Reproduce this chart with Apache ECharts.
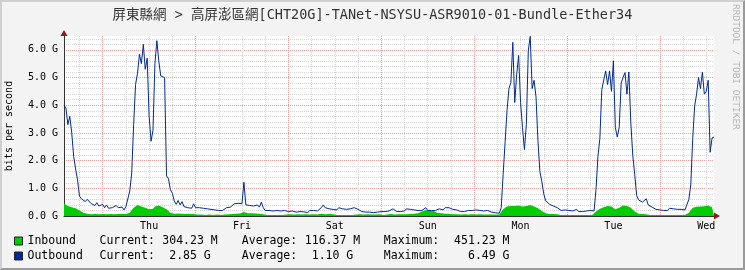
<!DOCTYPE html>
<html>
<head>
<meta charset="utf-8">
<script src="https://cdn.jsdelivr.net/npm/echarts@6/dist/echarts.min.js"></script>
<style>
html,body{margin:0;padding:0;background:#f3f3f3;}
#wrap{position:relative;width:745px;height:270px;}
#c{width:745px;height:270px;}
#frame{position:absolute;left:0;top:0;width:745px;height:270px;box-sizing:border-box;
border-left:2px solid #d0d0d0;border-top:2px solid #d0d0d0;border-right:2px solid #9a9a9a;border-bottom:2px solid #9a9a9a;pointer-events:none;}
</style>
</head>
<body>
<div id="wrap"><div id="c"></div><div id="frame"></div></div>
<script>
// ---- data (Gbit/s), one sample every 30 minutes, starting Wed 14:00 ----
const titleText = '屏東縣網 > 高屏澎區網[CHT20G]-TANet-NSYSU-ASR9010-01-Bundle-Ether34';
const dayNames = ['Sun','Mon','Tue','Wed','Thu','Fri','Sat'];
const startDayIndex = 3;      // Wed
const startMinutes = 14 * 60; // 14:00
const stepMinutes = 30;

const outbound = [
4.0,3.9,3.3,3.6,3.0,2.15,1.7,1.3,0.72,0.62,
0.55,0.52,0.6,0.66,0.45,0.42,0.38,0.48,0.36,0.34,
0.42,0.3,0.4,0.28,0.35,0.3,0.25,0.38,0.3,0.24,
0.32,0.22,0.34,0.3,0.9,1.55,3.3,4.75,5.15,5.84,
5.5,6.2,5.3,5.7,3.6,2.7,3.1,5.5,6.33,5.6,
5.06,5.06,5.0,1.45,1.35,0.95,0.82,0.55,0.42,0.56,
0.4,0.52,0.34,0.36,0.3,0.32,0.28,0.44,0.3,0.28,
0.3,0.24,0.28,0.22,0.26,0.2,0.24,0.2,0.22,0.26,
0.2,0.24,0.2,0.26,0.3,0.26,0.32,0.38,0.44,0.4,
0.46,0.4,0.44,1.22,0.4,0.42,0.38,0.4,0.36,0.34,
0.4,0.32,0.5,0.3,0.2,0.16,0.2,0.14,0.18,0.12,
0.2,0.14,0.18,0.16,0.2,0.22,0.16,0.2,0.18,0.22,
0.14,0.2,0.16,0.22,0.15,0.18,0.12,0.2,0.16,0.2,
0.14,0.18,0.2,0.3,0.4,0.3,0.34,0.26,0.3,0.24,
0.28,0.22,0.3,0.24,0.26,0.2,0.24,0.2,0.26,0.22,
0.3,0.34,0.24,0.2,0.16,0.2,0.14,0.18,0.14,0.2,
0.12,0.18,0.14,0.18,0.16,0.22,0.16,0.2,0.18,0.24,
0.26,0.2,0.16,0.2,0.16,0.22,0.18,0.26,0.2,0.24,
0.18,0.22,0.16,0.2,0.16,0.2,0.24,0.3,0.2,0.24,
0.2,0.26,0.2,0.22,0.26,0.3,0.22,0.3,0.34,0.3,
0.36,0.24,0.2,0.22,0.18,0.16,0.2,0.16,0.18,0.2,
0.16,0.2,0.18,0.22,0.16,0.2,0.16,0.18,0.14,0.2,
0.16,0.14,0.18,0.12,0.16,0.1,0.3,1.5,2.64,3.8,
4.6,4.82,6.27,4.1,5.1,5.8,4.1,3.2,2.4,3.3,
5.96,6.49,4.6,4.9,4.3,2.7,1.6,1.25,0.8,0.55,
0.5,0.42,0.44,0.36,0.34,0.3,0.24,0.2,0.18,0.22,
0.16,0.2,0.14,0.18,0.16,0.24,0.16,0.22,0.16,0.2,
0.18,0.16,0.2,0.16,0.18,0.95,2.15,2.8,4.57,4.5,
5.24,4.75,5.24,4.5,5.6,3.2,2.85,3.2,4.8,5.0,
5.18,4.4,5.2,3.36,2.2,1.5,0.75,0.58,0.52,0.5,
0.48,0.62,0.4,0.34,0.32,0.3,0.24,0.28,0.22,0.26,
0.2,0.24,0.2,0.28,0.22,0.26,0.2,0.24,0.18,0.24,
0.18,0.22,0.2,0.6,1.12,2.8,3.97,4.4,5.0,4.6,
5.2,4.4,4.5,4.9,2.3,2.82,2.85
];

const inbound = [
0.45,0.42,0.36,0.34,0.32,0.3,0.28,0.22,0.2,0.16,
0.12,0.1,0.08,0.1,0.06,0.09,0.07,0.1,0.06,0.08,
0.07,0.1,0.06,0.08,0.07,0.09,0.06,0.08,0.07,0.06,
0.08,0.06,0.07,0.08,0.12,0.22,0.3,0.34,0.4,0.38,
0.34,0.32,0.3,0.26,0.24,0.22,0.26,0.34,0.38,0.38,
0.34,0.32,0.3,0.24,0.18,0.12,0.1,0.08,0.06,0.09,
0.06,0.08,0.05,0.07,0.06,0.08,0.05,0.07,0.06,0.05,
0.07,0.05,0.06,0.04,0.06,0.05,0.07,0.04,0.06,0.05,
0.06,0.04,0.06,0.05,0.07,0.06,0.08,0.07,0.09,0.08,
0.1,0.09,0.12,0.14,0.12,0.1,0.12,0.1,0.11,0.09,
0.1,0.08,0.09,0.06,0.05,0.04,0.06,0.04,0.05,0.04,
0.06,0.04,0.05,0.04,0.06,0.05,0.04,0.06,0.04,0.05,
0.04,0.06,0.04,0.05,0.04,0.06,0.04,0.05,0.04,0.06,
0.04,0.05,0.06,0.08,0.07,0.06,0.05,0.07,0.05,0.06,
0.05,0.04,0.06,0.04,0.05,0.04,0.06,0.04,0.05,0.04,
0.06,0.05,0.04,0.06,0.04,0.05,0.04,0.06,0.04,0.05,
0.04,0.05,0.04,0.06,0.05,0.04,0.06,0.05,0.06,0.07,
0.06,0.05,0.07,0.06,0.08,0.06,0.07,0.06,0.08,0.07,
0.06,0.08,0.07,0.1,0.12,0.16,0.18,0.22,0.2,0.18,
0.16,0.18,0.14,0.12,0.14,0.1,0.12,0.08,0.1,0.08,
0.07,0.06,0.05,0.06,0.04,0.05,0.04,0.06,0.04,0.05,
0.04,0.06,0.04,0.05,0.04,0.06,0.04,0.05,0.04,0.05,
0.04,0.05,0.04,0.05,0.04,0.05,0.1,0.24,0.3,0.34,
0.35,0.36,0.34,0.36,0.34,0.38,0.4,0.34,0.32,0.36,
0.34,0.4,0.38,0.34,0.32,0.28,0.22,0.18,0.14,0.1,
0.08,0.07,0.06,0.07,0.05,0.06,0.05,0.04,0.06,0.04,
0.05,0.04,0.06,0.04,0.05,0.04,0.06,0.04,0.05,0.04,
0.06,0.04,0.05,0.04,0.08,0.16,0.22,0.26,0.3,0.32,
0.34,0.36,0.36,0.34,0.3,0.24,0.22,0.3,0.34,0.38,
0.4,0.36,0.34,0.3,0.24,0.16,0.1,0.08,0.06,0.07,
0.05,0.06,0.05,0.04,0.06,0.04,0.05,0.04,0.06,0.04,
0.05,0.04,0.06,0.04,0.05,0.04,0.06,0.04,0.05,0.04,
0.05,0.04,0.05,0.12,0.18,0.3,0.32,0.33,0.32,0.34,
0.33,0.35,0.36,0.38,0.34,0.32,0.30
];

const seriesNames = ['Inbound', 'Outbound'];
const statLabels = ['Current:', 'Average:', 'Maximum:'];
const inboundStats = ['304.23 M', '116.37 M', '451.23 M'];
const outboundStats = ['2.85 G', '1.10 G', '6.49 G'];
const yTickLabels = ['0.0 G','1.0 G','2.0 G','3.0 G','4.0 G','5.0 G','6.0 G'];
const yMax = 6.5;

// ---- build categories ----
const categories = [];
for (let i = 0; i < outbound.length; i++) {
  const t = startMinutes + i * stepMinutes;
  const d = dayNames[(startDayIndex + Math.floor(t / 1440)) % 7];
  const m = t % 1440;
  const hh = String(Math.floor(m / 60)).padStart(2, '0');
  const mm = String(m % 60).padStart(2, '0');
  categories.push(d + ' ' + hh + ':' + mm);
}
const hourOf = v => parseInt(v.slice(4, 6), 10);
const onHour = v => v.slice(7) === '00';

const MONO = "'DejaVu Sans Mono', 'Noto Sans CJK TC', monospace";
const GREEN = '#00cc00';
const BLUE = '#002a97';
const ARROW = '#8b1c1c';

function legendFmt(stats) {
  return function (name) {
    return '{n|' + name + '}{l|' + statLabels[0] + '}{v|' + stats[0] + '}{g|}' +
      '{l|' + statLabels[1] + '}{v2|' + stats[1] + '}{g2|}' +
      '{l|' + statLabels[2] + '}{v2|' + stats[2] + '}';
  };
}
const legendRich = {
  n: { width: 72, fontFamily: MONO, fontSize: 11.5, color: '#000' },
  l: { width: 56, fontFamily: MONO, fontSize: 11.5, color: '#000' },
  v: { width: 69, align: 'right', fontFamily: MONO, fontSize: 11.5, color: '#000' },
  g: { width: 17 },
  v2: { width: 70, align: 'right', fontFamily: MONO, fontSize: 11.5, color: '#000' },
  g2: { width: 16 }
};

const chart = echarts.init(document.getElementById('c'), null, { renderer: 'canvas' });
chart.setOption({
  animation: false,
  backgroundColor: '#f3f3f3',
  title: {
    text: titleText, left: 'center', top: 4,
    textStyle: { fontFamily: MONO, fontSize: 13.5, fontWeight: 'normal', color: '#333' }
  },
  legend: [
    { data: [seriesNames[0]], left: 14, top: 235, orient: 'vertical', icon: 'rect',
      itemWidth: 8, itemHeight: 8, itemGap: 0, padding: 0,
      itemStyle: { borderColor: '#222', borderWidth: 1 },
      formatter: legendFmt(inboundStats), textStyle: { rich: legendRich } },
    { data: [seriesNames[1]], left: 14, top: 250, orient: 'vertical', icon: 'rect',
      itemWidth: 8, itemHeight: 8, itemGap: 0, padding: 0,
      itemStyle: { borderColor: '#222', borderWidth: 1 },
      formatter: legendFmt(outboundStats), textStyle: { rich: legendRich } }
  ],
  grid: { left: 64, top: 36, width: 650, height: 180, show: true, backgroundColor: '#ffffff', borderWidth: 0,
    containLabel: false, outerBoundsMode: 'none' },
  graphic: [{
    type: 'text', x: 735, y: 4, rotation: -Math.PI / 2,
    style: { text: 'RRDTOOL / TOBI OETIKER', fill: '#b4b4b4', font: '9.5px ' + MONO, align: 'left', verticalAlign: 'middle' }
  }],
  xAxis: [
    { type: 'category', data: categories, boundaryGap: false, position: 'bottom',
      axisLine: { show: true, lineStyle: { color: '#333', width: 1 } },
      axisTick: { show: false },
      axisLabel: { interval: (i, v) => v.slice(4) === '12:00', formatter: v => v.slice(0, 3),
        fontFamily: MONO, fontSize: 10, color: '#000', margin: 5 },
      splitLine: { show: true, interval: (i, v) => onHour(v) && hourOf(v) % 6 === 0 && hourOf(v) !== 0,
        lineStyle: { color: '#d4d4d4', width: 1, type: [1, 1] } } },
    { type: 'category', data: categories, boundaryGap: false, position: 'bottom',
      axisLine: { show: false }, axisTick: { show: false }, axisLabel: { show: false },
      splitLine: { show: true, interval: (i, v) => v.slice(4) === '00:00',
        lineStyle: { color: '#f09a9a', width: 1, type: [1, 1] } } },
    { type: 'category', data: categories, boundaryGap: false, position: 'bottom',
      axisLine: { show: true, symbol: ['none', 'triangle'], symbolSize: [7, 6], symbolOffset: [0, 3],
        lineStyle: { color: ARROW, width: 0 } },
      axisTick: { show: false }, axisLabel: { show: false }, splitLine: { show: false } }
  ],
  yAxis: [
    { type: 'value', min: 0, max: yMax, interval: 1, position: 'left',
      axisLine: { show: true, lineStyle: { color: '#333', width: 1 } },
      axisTick: { show: false },
      axisLabel: { showMaxLabel: false, formatter: (v) => yTickLabels[Math.round(v)] || '',
        fontFamily: MONO, fontSize: 10, color: '#000', margin: 6 },
      name: 'bits per second', nameLocation: 'middle', nameGap: 50, nameRotate: 90,
      nameTextStyle: { fontFamily: MONO, fontSize: 10, color: '#000' },
      splitLine: { show: true, showMaxLine: false, lineStyle: { color: '#f09a9a', width: 1, type: [1, 1] } } },
    { type: 'value', min: 0, max: yMax, interval: 0.2, position: 'left',
      axisLine: { show: false }, axisTick: { show: false }, axisLabel: { show: false },
      splitLine: { show: true, showMaxLine: false,
        lineStyle: { color: ['rgba(0,0,0,0)', '#d4d4d4', '#d4d4d4', '#d4d4d4', '#d4d4d4'], width: 1, type: [1, 1] } } },
    { type: 'value', min: 0, max: yMax, position: 'left',
      axisLine: { show: true, symbol: ['none', 'triangle'], symbolSize: [7, 6], symbolOffset: [0, 3],
        lineStyle: { color: ARROW, width: 0 } },
      axisTick: { show: false }, axisLabel: { show: false }, splitLine: { show: false } }
  ],
  series: [
    { name: seriesNames[0], type: 'line', data: inbound, xAxisIndex: 0, yAxisIndex: 0,
      symbol: 'none', color: GREEN, lineStyle: { width: 0 }, areaStyle: { color: GREEN, opacity: 1 } },
    { name: seriesNames[1], type: 'line', data: outbound, xAxisIndex: 0, yAxisIndex: 0,
      symbol: 'none', color: BLUE, lineStyle: { width: 1, color: BLUE } }
  ]
});
</script>
</body>
</html>
